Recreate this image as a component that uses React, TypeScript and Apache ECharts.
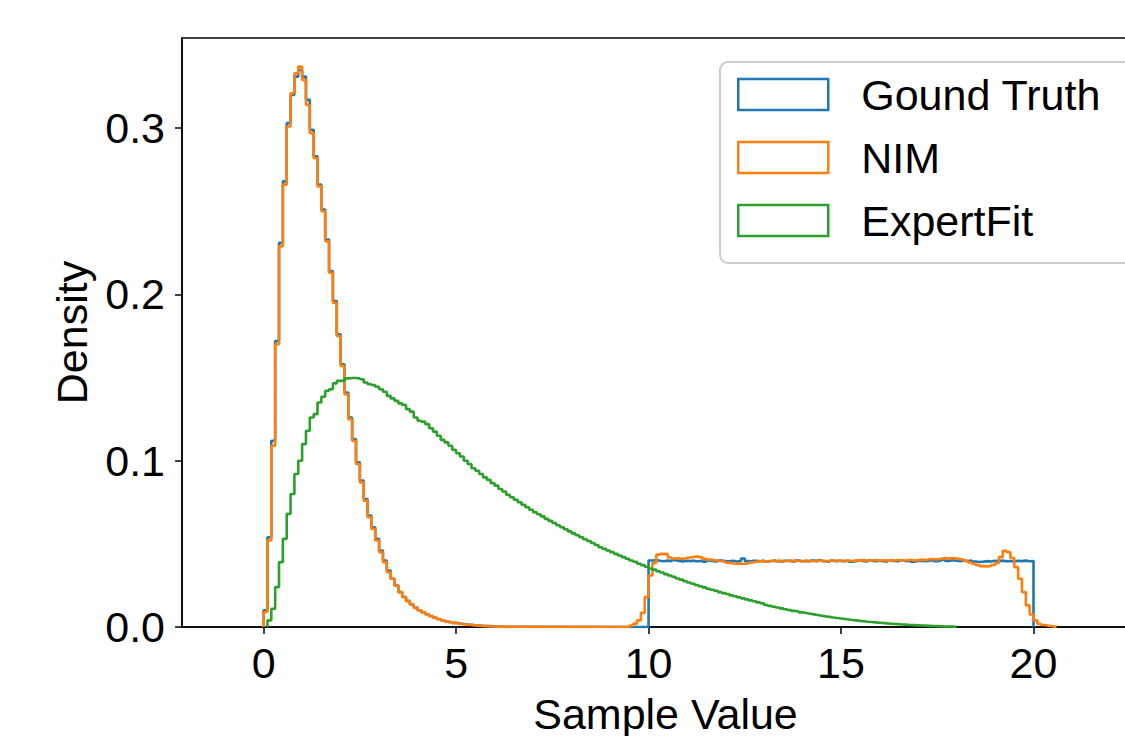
import React, { useEffect, useRef } from "react";
import * as echarts from "echarts";

const BIN = 0.1;

// Ground Truth histogram (density), bins of width 0.1
const gtPeakStart = 0.0;
const gtPeak = [
  0.010, 0.054, 0.112, 0.172, 0.231, 0.268, 0.303, 0.320, 0.331, 0.335,
  0.331, 0.317, 0.299, 0.283, 0.266, 0.251, 0.233, 0.214, 0.196, 0.176,
  0.158, 0.141, 0.126, 0.113, 0.099, 0.088, 0.077, 0.067, 0.060, 0.053,
  0.046, 0.040, 0.034, 0.029, 0.025, 0.021, 0.018, 0.0157, 0.0136, 0.0117,
  0.0101, 0.0089, 0.0077, 0.0066, 0.0056, 0.0048, 0.0041, 0.0035, 0.0030, 0.0025,
  0.0021, 0.0018, 0.0015, 0.0013, 0.0011, 0.0009, 0.0007, 0.0006, 0.0005, 0.0004,
  0.0003, 0.0002,
];
const gtUniformStart = 10.0;
const gtUniform = [
  0.0400, 0.0402, 0.0398, 0.0395, 0.0399, 0.0396, 0.0401, 0.0397, 0.0394, 0.0398,
  0.0396, 0.0400, 0.0395, 0.0398, 0.0393, 0.0399, 0.0396, 0.0394, 0.0400, 0.0397,
  0.0395, 0.0398, 0.0394, 0.0397, 0.0412, 0.0396, 0.0393, 0.0398, 0.0395, 0.0399,
  0.0394, 0.0397, 0.0400, 0.0395, 0.0392, 0.0398, 0.0396, 0.0393, 0.0399, 0.0395,
  0.0397, 0.0394, 0.0399, 0.0396, 0.0401, 0.0395, 0.0392, 0.0398, 0.0396, 0.0400,
  0.0395, 0.0398, 0.0393, 0.0397, 0.0400, 0.0396, 0.0394, 0.0399, 0.0395, 0.0398,
  0.0396, 0.0393, 0.0399, 0.0397, 0.0394, 0.0400, 0.0396, 0.0398, 0.0393, 0.0397,
  0.0399, 0.0395, 0.0398, 0.0402, 0.0396, 0.0399, 0.0404, 0.0397, 0.0401, 0.0398,
  0.0396, 0.0400, 0.0397, 0.0399, 0.0394, 0.0391, 0.0393, 0.0396, 0.0394, 0.0398,
  0.0396, 0.0399, 0.0395, 0.0397, 0.0394, 0.0398, 0.0396, 0.0399, 0.0395, 0.0397,
];

// NIM histogram
const nimPeakStart = 0.0;
const nimPeak = [
  0.009, 0.052, 0.109, 0.170, 0.229, 0.266, 0.301, 0.321, 0.333, 0.337,
  0.329, 0.314, 0.297, 0.282, 0.265, 0.250, 0.232, 0.213, 0.195, 0.175,
  0.157, 0.140, 0.125, 0.112, 0.098, 0.087, 0.076, 0.066, 0.059, 0.052,
  0.045, 0.039, 0.033, 0.029, 0.025, 0.021, 0.018, 0.0155, 0.0135, 0.0115,
  0.0100, 0.0088, 0.0076, 0.0065, 0.0055, 0.0047, 0.0040, 0.0034, 0.0029, 0.0024,
  0.0020, 0.0017, 0.0014, 0.0012, 0.0010, 0.0008, 0.0006, 0.0005, 0.0004, 0.0003,
  0.0002, 0.0001,
];
const nimUniformStart = 9.5;
const nimUniform = [
  0.0008, 0.0020, 0.0040, 0.0085, 0.0180,
  0.0310, 0.0385, 0.0435, 0.0440, 0.0438, 0.0418, 0.0412, 0.0415, 0.0410, 0.0413,
  0.0418, 0.0422, 0.0426, 0.0420, 0.0410, 0.0405, 0.0402, 0.0398, 0.0395, 0.0392,
  0.0386, 0.0382, 0.0380, 0.0382, 0.0379, 0.0383, 0.0388, 0.0392, 0.0395, 0.0397,
  0.0395, 0.0398, 0.0396, 0.0399, 0.0395, 0.0397, 0.0400, 0.0396, 0.0398, 0.0395,
  0.0399, 0.0397, 0.0395, 0.0398, 0.0400, 0.0396, 0.0398, 0.0401, 0.0397, 0.0399,
  0.0398, 0.0400, 0.0397, 0.0401, 0.0399, 0.0402, 0.0398, 0.0400, 0.0403, 0.0399,
  0.0401, 0.0398, 0.0402, 0.0400, 0.0403, 0.0399, 0.0401, 0.0404, 0.0400, 0.0402,
  0.0405, 0.0403, 0.0407, 0.0409, 0.0406, 0.0410, 0.0414, 0.0411, 0.0415, 0.0412,
  0.0408, 0.0404, 0.0396, 0.0388, 0.0380, 0.0372, 0.0366, 0.0364, 0.0367, 0.0373,
  0.0385, 0.0420, 0.0458, 0.0450, 0.0415, 0.0360, 0.0290, 0.0210, 0.0130, 0.0075,
  0.0040, 0.0018, 0.0012, 0.0008, 0.0004, 0.0002,
];

// ExpertFit histogram
const expertStart = 0.1;
const expert = [
  0.004, 0.011, 0.024, 0.039, 0.053, 0.068, 0.080, 0.092, 0.100,
  0.110, 0.118, 0.126, 0.128, 0.135, 0.1385, 0.142, 0.143, 0.1465, 0.148,
  0.148, 0.1495, 0.1497, 0.1497, 0.1495, 0.149, 0.147, 0.146, 0.1455, 0.1445,
  0.1430, 0.1415, 0.1390, 0.1375, 0.1360, 0.1345, 0.1335, 0.1310, 0.1295, 0.1260,
  0.1240, 0.1235, 0.1220, 0.1195, 0.1175, 0.1150, 0.1125, 0.1110, 0.1090, 0.1065,
  0.1045, 0.1025, 0.1000, 0.0980, 0.0955, 0.0940, 0.0920, 0.0900, 0.0885, 0.0865,
  0.0850, 0.0830, 0.0815, 0.0795, 0.0780, 0.0765, 0.0750, 0.0735, 0.0720, 0.0705,
  0.0690, 0.0678, 0.0665, 0.0650, 0.0638, 0.0625, 0.0612, 0.0600, 0.0588, 0.0575,
  0.0563, 0.0552, 0.0540, 0.0528, 0.0517, 0.0505, 0.0493, 0.0480, 0.0470, 0.0460,
  0.0450, 0.0440, 0.0430, 0.0420, 0.0410, 0.0400, 0.0392, 0.0380, 0.0372, 0.0362,
  0.0352, 0.0345, 0.0335, 0.0328, 0.0318, 0.0310, 0.0302, 0.0292, 0.0285, 0.0275,
  0.0268, 0.0260, 0.0252, 0.0245, 0.0238, 0.0230, 0.0224, 0.0218, 0.0210, 0.0204,
  0.0198, 0.0190, 0.0185, 0.0178, 0.0172, 0.0166, 0.0160, 0.0155, 0.0148, 0.0143,
  0.0132, 0.0127, 0.0122, 0.0117, 0.0112, 0.0107, 0.0102, 0.0097, 0.0093, 0.0088,
  0.0084, 0.0080, 0.0076, 0.0072, 0.0068, 0.0064, 0.0061, 0.0057, 0.0054, 0.0051,
  0.0048, 0.0045, 0.0042, 0.0040, 0.0037, 0.0035, 0.0032, 0.0030, 0.0028, 0.0026,
  0.0024, 0.0022, 0.0020, 0.0018, 0.0017, 0.0015, 0.0014, 0.0012, 0.0011, 0.0010,
  0.0009, 0.0008, 0.0007, 0.0006, 0.0005, 0.0004, 0.0003, 0.0003, 0.0002, 0.0001,
];

const seriesNames = ["Gound Truth", "NIM", "ExpertFit"];
const seriesColors = ["#1f77b4", "#ff7f0e", "#2ca02c"];
const xTicks = [0, 5, 10, 15, 20];
const yTicks = [0, 0.1, 0.2, 0.3];

const FONT = "'Liberation Sans', Arial, Helvetica, sans-serif";

function stepPoints(segments: [number, number[]][]): number[][] {
  const pts: number[][] = [];
  for (const [start, vals] of segments) {
    pts.push([start, 0]);
    vals.forEach((v, i) => {
      const x0 = start + i * BIN;
      pts.push([x0, v]);
      pts.push([x0 + BIN, v]);
    });
    pts.push([start + vals.length * BIN, 0]);
  }
  return pts;
}

export default function App() {
  const ref = useRef<HTMLDivElement>(null);

  useEffect(() => {
    if (!ref.current) return;
    const chart = echarts.init(ref.current, null, { renderer: "svg" });
    const data = [
      stepPoints([[gtPeakStart, gtPeak], [gtUniformStart, gtUniform]]),
      stepPoints([[nimPeakStart, nimPeak], [nimUniformStart, nimUniform]]),
      stepPoints([[expertStart, expert]]),
    ];
    const axisCommon = {
      axisLine: { show: true, onZero: false, lineStyle: { color: "#000", width: 1.5 } },
      splitLine: { show: false },
      nameTextStyle: { color: "#000", fontSize: 43, fontFamily: FONT },
    };
    chart.setOption({
      animation: false,
      backgroundColor: "#ffffff",
      grid: {
        left: 182,
        top: 38,
        width: 967,
        height: 589,
        show: true,
        borderColor: "#000",
        borderWidth: 1.5,
        backgroundColor: "transparent",
        containLabel: false,
        outerBoundsMode: "none",
      },
      xAxis: {
        type: "value",
        min: -2.12,
        max: 23.0,
        ...axisCommon,
        axisTick: {
          show: true,
          length: 7,
          lineStyle: { color: "#000", width: 1.5 },
          customValues: xTicks,
        },
        axisLabel: {
          customValues: xTicks,
          color: "#000",
          fontSize: 43,
          fontFamily: FONT,
          margin: 14,
          formatter: (v: number) => String(v),
        },
        name: "Sample Value",
        nameLocation: "middle",
        nameGap: 65,
      },
      yAxis: {
        type: "value",
        min: 0,
        max: 0.3542,
        ...axisCommon,
        axisTick: {
          show: true,
          length: 7,
          lineStyle: { color: "#000", width: 1.5 },
          customValues: yTicks,
        },
        axisLabel: {
          customValues: yTicks,
          color: "#000",
          fontSize: 43,
          fontFamily: FONT,
          margin: 17,
          formatter: (v: number) => v.toFixed(1),
        },
        name: "Density",
        nameLocation: "middle",
        nameRotate: 90,
        nameGap: 89,
      },
      legend: {
        show: true,
        orient: "vertical",
        left: 720,
        top: 62,
        padding: [11, 30, 21, 17],
        itemWidth: 90,
        itemHeight: 31,
        itemGap: 20,
        selectedMode: false,
        backgroundColor: "rgba(255,255,255,0.8)",
        borderColor: "#cccccc",
        borderWidth: 2,
        borderRadius: 8,
        textStyle: {
          color: "#000",
          fontSize: 43,
          fontFamily: FONT,
          lineHeight: 31,
          padding: [0, 0, 0, 28],
        },
        data: seriesNames.map((n, i) => ({
          name: n,
          icon: "rect",
          itemStyle: {
            color: "rgba(0,0,0,0)",
            borderColor: seriesColors[i],
            borderWidth: 2.5,
          },
        })),
      },
      series: seriesNames.map((n, i) => ({
        name: n,
        type: "line",
        data: data[i],
        showSymbol: false,
        symbol: "none",
        silent: true,
        clip: true,
        color: seriesColors[i],
        itemStyle: { color: seriesColors[i] },
        lineStyle: { color: seriesColors[i], width: 2.6 },
        z: 2 + i,
      })),
    });
    return () => chart.dispose();
  }, []);

  return (
    <div
      ref={ref}
      style={{ position: "fixed", left: 0, top: 0, width: 1125, height: 736, background: "#fff" }}
    />
  );
}
